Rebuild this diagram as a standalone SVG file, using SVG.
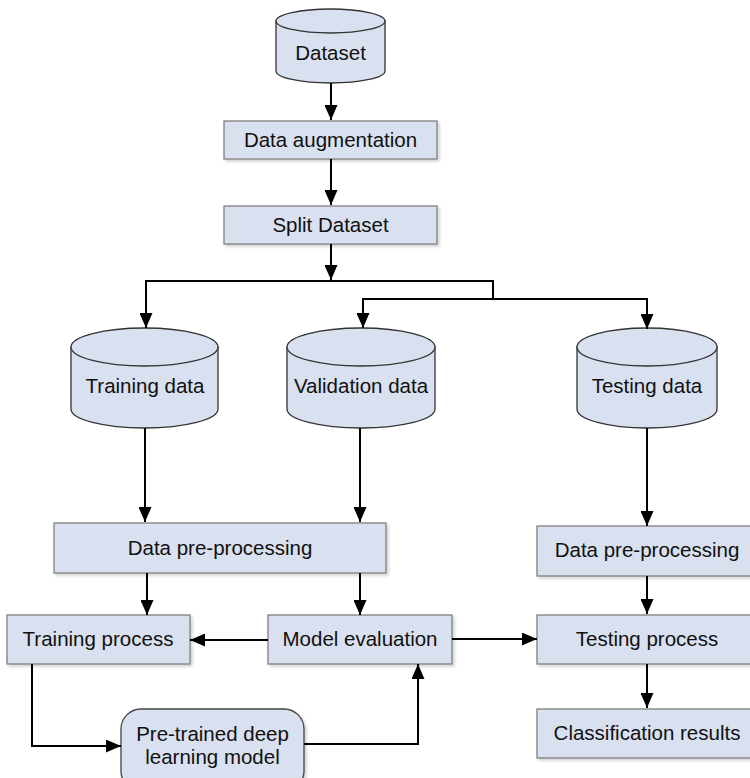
<svg xmlns="http://www.w3.org/2000/svg" width="750" height="778" viewBox="0 0 750 778">
<defs>
<marker id="arr" markerUnits="userSpaceOnUse" markerWidth="15" markerHeight="13" refX="15" refY="6.5" orient="auto">
<path d="M0,0 L15,6.5 L0,13 Z" fill="#000"/>
</marker>
<filter id="sh" x="-10%" y="-10%" width="125%" height="130%">
<feDropShadow dx="2" dy="2" stdDeviation="1.5" flood-color="#000" flood-opacity="0.18"/>
</filter>
</defs>
<style>
.box{fill:#d9e0ef;stroke:#808080;stroke-width:1.3;filter:url(#sh)}
.cyl{fill:#d9e0ef;stroke:#333;stroke-width:1.3}
.t{font-family:"Liberation Sans",Arial,sans-serif;font-size:20.5px;fill:#111;text-anchor:middle}
.c{fill:none;stroke:#000;stroke-width:2;marker-end:url(#arr)}
</style>
<rect width="750" height="778" fill="#fff"/>

<g id="dataset">
<path class="cyl" d="M276,21 L276,71 A54.5,12 0 0 0 385,71 L385,21 Z"/>
<ellipse class="cyl" cx="330.5" cy="21" rx="54.5" ry="12"/>
<text class="t" x="330.5" y="60">Dataset</text>
</g>
<g id="augmentation">
<rect class="box" x="224" y="121" width="213" height="38"/>
<text class="t" x="330.5" y="147">Data augmentation</text>
</g>
<g id="split">
<rect class="box" x="224" y="206" width="213" height="38"/>
<text class="t" x="330.5" y="232">Split Dataset</text>
</g>
<g id="training-data">
<path class="cyl" d="M71,347 L71,409 A73.5,19 0 0 0 218,409 L218,347 Z"/>
<ellipse class="cyl" cx="144.5" cy="347" rx="73.5" ry="19"/>
<text class="t" x="145" y="393">Training data</text>
</g>
<g id="validation-data">
<path class="cyl" d="M287,347 L287,409 A74,19 0 0 0 435,409 L435,347 Z"/>
<ellipse class="cyl" cx="361" cy="347" rx="74" ry="19"/>
<text class="t" x="361" y="393">Validation data</text>
</g>
<g id="testing-data">
<path class="cyl" d="M577,347 L577,409 A70,19 0 0 0 717,409 L717,347 Z"/>
<ellipse class="cyl" cx="647" cy="347" rx="70" ry="19"/>
<text class="t" x="647" y="393">Testing data</text>
</g>
<g id="preproc-left">
<rect class="box" x="54" y="523" width="332" height="50"/>
<text class="t" x="220" y="555">Data pre-processing</text>
</g>
<g id="training-process">
<rect class="box" x="7" y="615" width="183" height="49"/>
<text class="t" x="98" y="646">Training process</text>
</g>
<g id="model-evaluation">
<rect class="box" x="268" y="615" width="184" height="49"/>
<text class="t" x="360" y="646">Model evaluation</text>
</g>
<g id="pretrained">
<rect class="box" x="121" y="709" width="183" height="82" rx="20" ry="20" style="stroke:#444"/>
<text class="t" x="212.5" y="741">Pre-trained deep</text>
<text class="t" x="212.5" y="764">learning model</text>
</g>
<g id="preproc-right">
<rect class="box" x="537" y="526" width="222" height="50"/>
<text class="t" x="647" y="557">Data pre-processing</text>
</g>
<g id="testing-process">
<rect class="box" x="537" y="615" width="222" height="49"/>
<text class="t" x="647" y="646">Testing process</text>
</g>
<g id="classification">
<rect class="box" x="537" y="709" width="222" height="49"/>
<text class="t" x="647" y="740">Classification results</text>
</g>

<g id="connectors">
<path class="c" d="M331,83 L331,120"/>
<path class="c" d="M331,159 L331,205"/>
<path class="c" d="M331,244 L331,280"/>
<path class="c" d="M493,299 L493,281 L146,281 L146,328"/>
<path class="c" d="M493,299 L363,299 L363,328"/>
<path class="c" d="M493,299 L647,299 L647,329"/>
<path class="c" d="M145,428 L145,522"/>
<path class="c" d="M360,428 L360,522"/>
<path class="c" d="M147,573 L147,615"/>
<path class="c" d="M360,573 L360,615"/>
<path class="c" d="M268,640 L190,640"/>
<path class="c" d="M452,639 L537,639"/>
<path class="c" d="M32,664 L32,746 L121,746"/>
<path class="c" d="M304,744 L418,744 L418,664"/>
<path class="c" d="M647,428 L647,526"/>
<path class="c" d="M647,576 L647,614"/>
<path class="c" d="M647,664 L647,708"/>
</g>
</svg>
